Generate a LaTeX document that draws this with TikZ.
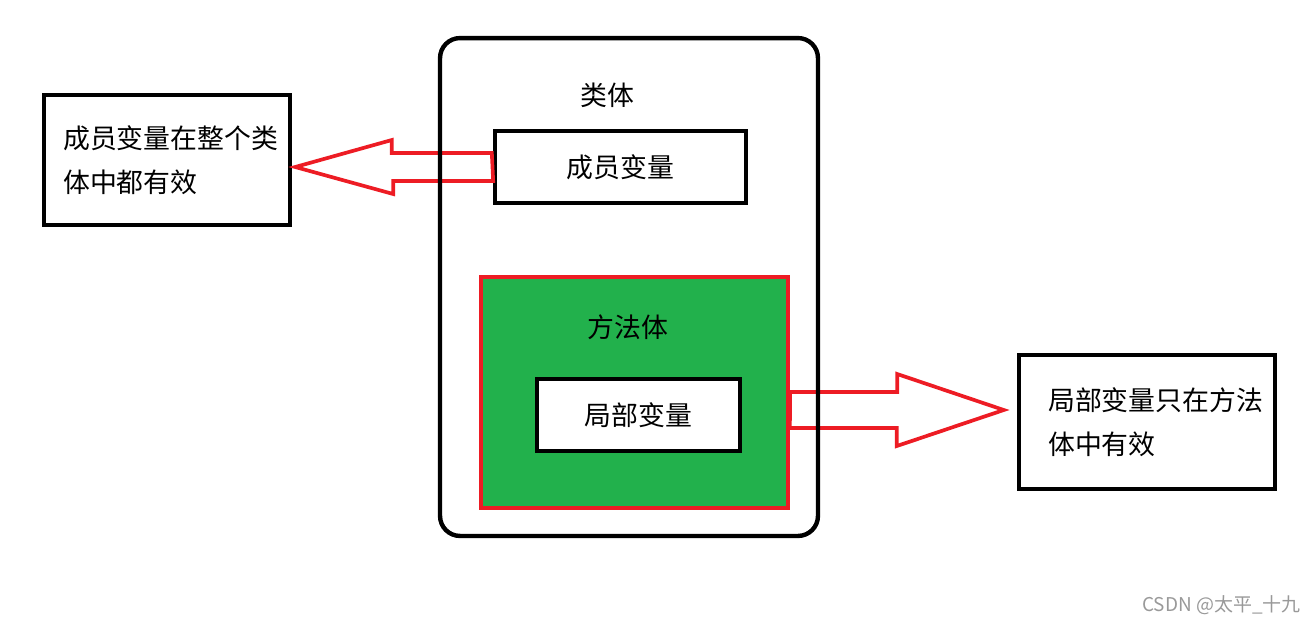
\documentclass[tikz,border=0pt]{standalone}
\usepackage{fontspec}
\setmainfont{Noto Sans CJK SC}
\usetikzlibrary{positioning,calc}
\definecolor{paintred}{HTML}{ED1C24}
\definecolor{paintgreen}{HTML}{22B14C}
\begin{document}
\begin{tikzpicture}[x=0.02cm,y=-0.02cm,
	box/.style={draw,line width=2.5pt,inner sep=0pt},
	lbl/.style={font=\fontsize{15.3}{25}\selectfont,inner sep=0pt,align=left},
	blockarrow/.style={draw=paintred,line width=2.1pt,line join=miter}]
\useasboundingbox (0,0) rectangle (1316,623);
\node[box,lbl,minimum width=5.02cm,minimum height=1.44cm] (member) at (620.5,167) {成员变量};
\node[draw=paintred,fill=paintgreen,line width=2.5pt,minimum width=6.14cm,minimum height=4.62cm] (method) at (634.5,392.5) {};
\node[lbl] (methodlbl) at (628,327) {方法体};
\node[box,lbl,fill=white,minimum width=4.06cm,minimum height=1.44cm] (local) at (638.5,415) {局部变量};
\node[box,minimum width=4.92cm,minimum height=2.6cm] (leftnote) at (167,160) {};
\node[lbl,right=0.42cm of leftnote.west] (lefttext) {成员变量在整个类\\体中都有效};
\node[box,minimum width=5.12cm,minimum height=2.68cm] (rightnote) at (1147,422) {};
\node[lbl,right=0.62cm of rightnote.west] (righttext) {局部变量只在方法\\体中有效};
\coordinate (ltip) at ($(leftnote.east |- member.west)+(3,0)$);
\coordinate (rtip) at ($(rightnote.west)+(-13,-12)$);
\draw[blockarrow] (member.west) ++(-1,-14) -- ++(-100,0) -- ++(0,-13) -- (ltip)
	-- ++(98,27) -- ++(0,-13) -- ++(100,0) -- cycle;
\draw[blockarrow] (method.east |- rtip) ++(0,-18) -- ++(107,0) -- ++(0,-18) -- (rtip)
	-- ++(-107,36) -- ++(0,-18) -- ++(-107,0) -- cycle;
\node[box,rounded corners=0.4cm,minimum width=7.56cm,minimum height=9.96cm] (classbody) at (629,287) {};
\node[lbl] (classlbl) at (607,95) {类体};
\node[font=\fontsize{10.8}{13}\selectfont,text=black!40,anchor=east,inner sep=0pt] (mark) at (1301,605) {CSDN @太平\_十九};
\end{tikzpicture}
\end{document}
